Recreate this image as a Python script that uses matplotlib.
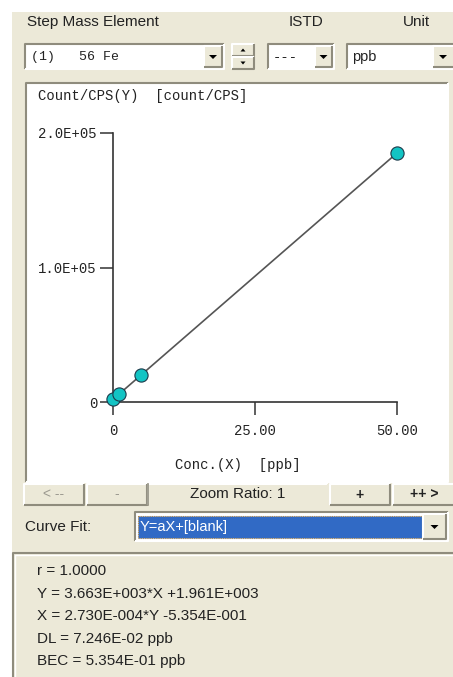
import numpy as np
import matplotlib
matplotlib.use('Agg')
import matplotlib.pyplot as plt
from matplotlib.patches import Rectangle, Polygon

# calibration data
conc = [0.0, 1.0, 5.0, 50.0]                 # ppb
cps = [1960.0, 5620.0, 20280.0, 185100.0]    # count/CPS
slope, intercept = 3.663e3, 1.961e3

xticks = [0, 25, 50]
xticklabels = ['0', '25.00', '50.00']
yticks = [0, 1.0e5, 2.0e5]
yticklabels = ['0', '1.0E+05', '2.0E+05']

result_lines = ['r = 1.0000',
                'Y = 3.663E+003*X +1.961E+003',
                'X = 2.730E-004*Y -5.354E-001',
                'DL = 7.246E-02 ppb',
                'BEC = 5.354E-01 ppb']

BG = '#ECE9D8'
DARK = '#8f8c7d'
UIFONT = 'Liberation Sans'
MONO = 'Liberation Mono'
W, H = 453, 677

fig = plt.figure(figsize=(W/100, H/100), dpi=100)
fig.patch.set_facecolor('white')

ui = fig.add_axes([0, 0, 1, 1])
ui.set_xlim(0, W)
ui.set_ylim(H, 0)
ui.axis('off')


def box(x0, y0, x1, y1, fill, tl, br, lw=1.5):
    ui.add_patch(Rectangle((x0, y0), x1 - x0, y1 - y0, fc=fill, ec='none'))
    ui.plot([x0, x0, x1], [y1, y0, y0], color=tl, lw=lw, solid_capstyle='butt')
    ui.plot([x0, x1, x1], [y1, y1, y0], color=br, lw=lw, solid_capstyle='butt')


def sunken(x0, y0, x1, y1, fill='white'):
    box(x0, y0, x1, y1, fill, DARK, 'white')


def raised(x0, y0, x1, y1, fill=BG):
    box(x0, y0, x1, y1, fill, 'white', DARK)


def arrow(cx, cy, w=8, h=4, up=False):
    s = -1 if up else 1
    ui.add_patch(Polygon([[cx - w/2, cy - s*h/2], [cx + w/2, cy - s*h/2], [cx, cy + s*h/2]],
                         closed=True, fc='black', ec='none'))


def label(x, y, s, **kw):
    kw.setdefault('family', UIFONT)
    kw.setdefault('fontsize', 11)
    kw.setdefault('color', '#222222')
    ui.text(x, y, s, va='center', **kw)


# window background
ui.add_patch(Rectangle((12, 12), W - 12, H - 12, fc=BG, ec='none'))

# header row
label(27, 22, 'Step Mass Element')
label(306, 22, 'ISTD', ha='center')
label(416, 22, 'Unit', ha='center')

# element combo + spinner
sunken(25, 44, 224, 69)
ui.text(31, 57, '(1)   56 Fe', family=MONO, fontsize=9.5, va='center', color='#222222')
raised(204, 46, 222, 67)
arrow(213, 57)
raised(232, 44, 254, 56)
raised(232, 57, 254, 69)
arrow(243, 50, 5, 3, up=True)
arrow(243, 63, 5, 3)

# ISTD combo
sunken(268, 44, 334, 69)
ui.text(273, 57, '---', family=MONO, fontsize=10, va='center', color='#222222')
raised(315, 46, 332, 67)
arrow(323.5, 57)

# unit combo
sunken(347, 44, 460, 69)
label(352, 57, 'ppb', fontsize=10.5)
raised(433, 46, 460, 67)
arrow(443, 57)

# plot panel
sunken(26, 83, 448, 482)

# buttons row
raised(24, 484, 84, 505)
label(54, 494.5, '< --', ha='center', color='#9c9a90', fontsize=10)
raised(87, 484, 147, 505)
label(117, 494.5, '-', ha='center', color='#9c9a90', fontsize=10)
box(148, 484, 328, 505, BG, 'white', BG)
ui.plot([148, 148], [484, 505], color=DARK, lw=1.2)
label(238, 494.5, 'Zoom Ratio: 1', ha='center')
raised(330, 484, 390, 505)
label(360, 494.5, '+', ha='center', fontweight='bold', fontsize=10)
raised(393, 484, 455, 505)
label(424, 494.5, '++ >', ha='center', fontweight='bold', fontsize=10)

# curve fit
label(25, 527, 'Curve Fit:')
sunken(135, 512, 448, 541)
ui.add_patch(Rectangle((138, 516), 284, 22, fc='#316AC5', ec='#b0884a', lw=0.8, ls=(0, (1, 1))))
label(140, 527, 'Y=aX+[blank]', color='white', fontsize=10.5)
raised(423, 514, 446, 539)
arrow(434.5, 527)

# results panel
box(13, 553, 460, 690, BG, DARK, 'white')
ui.plot([15, 15, 460], [690, 555, 555], color='white', lw=1)
for i, s in enumerate(result_lines):
    label(37, 571 + i * 22.5, s)

# calibration chart (pixel mapping: X=0 -> 113 px, X=50 -> 397 px; Y=0 -> 402 px, Y=2e5 -> 133 px)
px_x = 284 / 50.0
px_y = 269 / 2.0e5
L, R, T, B = 95, 428, 120, 440
ax = fig.add_axes([L / W, 1 - B / H, (R - L) / W, (B - T) / H])
ax.set_xlim((L - 113) / px_x, (R - 113) / px_x)
ax.set_ylim((402 - B) / px_y, (402 - T) / px_y)
ax.patch.set_alpha(0)

xfit = np.array([min(conc), max(conc)])
ax.plot(xfit, slope * xfit + intercept, color='#555555', lw=1.2, zorder=2)
ax.plot(conc, cps, ls='none', marker='o', ms=9.5, mfc='#13C4C4', mec='#1d3a4a', mew=0.8,
        zorder=3, clip_on=False)

axis_col = '#333333'
for side in ['top', 'right']:
    ax.spines[side].set_visible(False)
ax.spines['left'].set_position(('data', 0))
ax.spines['bottom'].set_position(('data', 0))
ax.spines['left'].set_bounds(0, 2.0e5)
ax.spines['bottom'].set_bounds(0, 50)
for side in ['left', 'bottom']:
    ax.spines[side].set_color(axis_col)
    ax.spines[side].set_linewidth(1.2)

ax.set_xticks(xticks)
ax.set_xticklabels(xticklabels)
ax.set_yticks(yticks)
ax.set_yticklabels(yticklabels)
ax.tick_params(axis='both', direction='out', length=9.5, width=1.1, color=axis_col,
               labelsize=10, labelcolor='#222222')
ax.tick_params(axis='x', pad=6)
ax.tick_params(axis='y', pad=2)
for t in ax.get_xticklabels() + ax.get_yticklabels():
    t.set_family(MONO)

ui.text(38, 96, 'Count/CPS(Y)  [count/CPS]', family=MONO, fontsize=10, va='center', color='#222222')
ui.text(238, 465, 'Conc.(X)  [ppb]', family=MONO, fontsize=10, va='center', ha='center', color='#222222')

fig.savefig('out.png', dpi=100, facecolor=fig.get_facecolor())
